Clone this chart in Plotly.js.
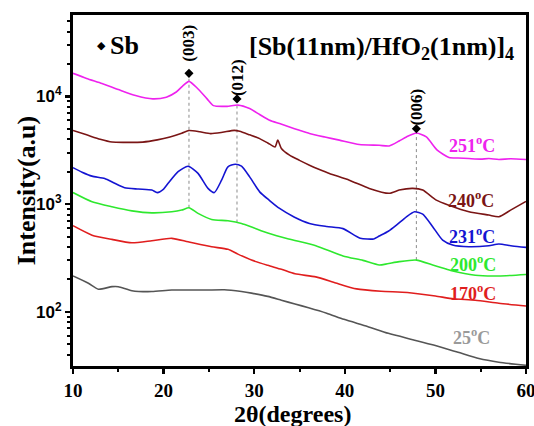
<!DOCTYPE html>
<html>
<head>
<meta charset="utf-8">
<script src="https://cdn.plot.ly/plotly-3.0.1.min.js"></script>
<style>html,body{margin:0;padding:0;background:#fff;}</style>
</head>
<body>
<div id="chart" style="width:534px;height:426px;"></div>
<script>
// ---- data (2θ in degrees, intensity in a.u.) ----
const x251 = [10, 11.5, 13.2, 15, 16.9, 18.8, 20.3, 21.4, 22.1, 22.8, 23.7, 24.8, 25.5, 27.0, 28.2, 29.5, 30.6, 31.7, 32.8, 33.9, 35, 36.1, 37.8, 39.4, 41.6, 43.8, 44.9, 46.0, 46.8, 47.9, 49.0, 50.2, 51.5, 52.5, 53.7, 55, 55.9, 57, 58.3, 60];
const y251 = [16400, 14700, 13200, 11600, 10200, 9500, 9860, 11000, 12500, 13800, 12000, 9500, 8220, 8100, 8320, 7720, 6800, 6010, 5600, 5210, 4850, 4530, 4200, 3930, 3580, 3520, 3470, 3860, 4210, 4580, 4210, 3170, 2710, 2680, 2650, 2620, 2650, 2600, 2640, 2600];

const x240 = [10, 11.5, 13, 14.3, 16, 17.7, 19.3, 20.7, 22.0, 22.8, 24.0, 25.2, 26.5, 27.8, 28.4, 29.5, 30.6, 31.5, 32.3, 32.6, 33.0, 33.9, 35, 36.1, 37.2, 38.3, 40.5, 42.7, 44.9, 46.0, 47.5, 48.6, 50.1, 51.5, 53.7, 55.9, 57.0, 58.3, 60];
const y240 = [4830, 4400, 4000, 3770, 3750, 3770, 3950, 4200, 4550, 4830, 4700, 4520, 4650, 4840, 4750, 4400, 4060, 3700, 3400, 3930, 3290, 2850, 2550, 2300, 2100, 1930, 1670, 1400, 1260, 1350, 1400, 1350, 1090, 977, 849, 791, 763, 879, 1060];

const x231 = [10, 11, 12.1, 13.5, 14.6, 15.7, 17.2, 18.7, 19.3, 20.0, 20.5, 21.6, 22.7, 23.8, 24.9, 25.6, 26.4, 27.1, 27.9, 28.6, 29.5, 30.6, 31.7, 32.8, 34.4, 36.1, 38, 39.8, 41.7, 43.2, 43.8, 44.8, 45.7, 46.8, 47.7, 48.6, 49.7, 50.8, 51.9, 53.7, 55.9, 57.0, 58.5, 60];
const y231 = [2180, 1980, 1820, 1730, 1560, 1420, 1380, 1350, 1280, 1380, 1560, 2000, 2250, 1930, 1400, 1280, 1670, 2220, 2350, 2250, 1790, 1300, 1080, 912, 760, 662, 620, 592, 482, 475, 505, 560, 638, 762, 849, 807, 617, 463, 417, 402, 411, 426, 408, 396];

const x200 = [10, 12.1, 14.3, 16.5, 18.7, 20.9, 22.0, 22.8, 23.8, 25.3, 27.1, 28.6, 30, 31.5, 33.8, 36.8, 39.8, 42, 43.8, 44.7, 46.0, 47.9, 49.7, 50.8, 51.8, 54.4, 57, 60];
const y200 = [1280, 1050, 944, 866, 830, 849, 880, 925, 820, 721, 700, 662, 600, 540, 475, 411, 330, 300, 272, 279, 292, 302, 272, 255, 240, 218, 215, 222];

const x170 = [10, 12.1, 14.3, 16.5, 18.7, 20.9, 22.7, 25.3, 27.1, 28.2, 29.7, 31.5, 33.0, 34.5, 36.8, 39, 41.3, 44, 46.9, 50, 52, 54.4, 57, 60];
const y170 = [630, 515, 470, 437, 457, 481, 447, 402, 380, 343, 302, 270, 248, 225, 211, 185, 163, 155, 151, 140, 132, 128, 120, 113];

const x25 = [10, 11.7, 12.8, 14.3, 15.0, 16.5, 18.7, 20.9, 24.6, 26.7, 28.6, 29.7, 31.5, 33.0, 34.5, 36.0, 38, 39.9, 42.5, 44.8, 47.5, 49.8, 52.5, 54.8, 57, 60];
const y25 = [215, 184, 162, 171, 171, 157, 154, 159, 159, 160, 154, 149, 139, 128, 118, 109, 97, 85, 73, 63, 55, 49, 42, 36.8, 34, 31.8];

const seriesNames = ['251', '240', '231', '200', '170', '25'];
const peakPos = [22.8, 28.1, 47.9];
const peakLabels = ['(003)', '(012)', '(006)'];
const peakMarkerY = [16400, 9500, 5010];
const yTickVals = [100, 1000, 10000];
const yTickText = ['10<sup>2</sup>', '10<sup>3</sup>', '10<sup>4</sup>'];
const xTickVals = [10, 20, 30, 40, 50, 60];

// ---- styles / placement ----
const colors = ['#ee22ee', '#7a1515', '#1414d2', '#2ee82e', '#e01e1e', '#555555'];
const labelColors = ['#ee22ee', '#7a1515', '#1414d2', '#2ee82e', '#e01e1e', '#9a9a9a'];
const labelPos = [[54.0, 3.557], [53.9, 3.046], [54.0, 2.712], [54.1, 2.45], [54.2, 2.18], [54.0, 1.774]];
const peakLabelLogY = [4.50, 4.18, 3.90];

const xs = [x251, x240, x231, x200, x170, x25];
const ys = [y251, y240, y231, y200, y170, y25];

function interp(xa, ya, x) {
  for (let i = 0; i < xa.length - 1; i++) {
    if (x >= xa[i] && x <= xa[i + 1]) {
      const t = (x - xa[i]) / (xa[i + 1] - xa[i]);
      return Math.pow(10, Math.log10(ya[i]) * (1 - t) + Math.log10(ya[i + 1]) * t);
    }
  }
  return ya[ya.length - 1];
}

const traces = [];
// dashed guide lines from peak marker down to the 200°C curve
peakPos.forEach((p, i) => {
  traces.push({
    x: [p, p], y: [interp(x200, y200, p), peakMarkerY[i]],
    mode: 'lines', line: {color: '#8a8a8a', width: 1, dash: 'dot'},
    hoverinfo: 'skip', showlegend: false
  });
});
xs.forEach((xa, i) => {
  traces.push({
    x: xa, y: ys[i], mode: 'lines', name: seriesNames[i],
    line: {color: colors[i], width: 1.6, shape: 'spline', smoothing: 0.6}, showlegend: false
  });
});
traces.push({
  x: peakPos, y: peakMarkerY, mode: 'markers',
  marker: {symbol: 'diamond', size: 7, color: 'black'}, showlegend: false
});

const serif = 'Liberation Serif, Times New Roman, serif';
const annotations = [];
seriesNames.forEach((n, i) => {
  annotations.push({
    x: labelPos[i][0], y: labelPos[i][1], xref: 'x', yref: 'y',
    text: n + '<sup>o</sup>C', showarrow: false, xanchor: 'center', yanchor: 'middle',
    font: {family: serif, size: 18, weight: 'bold', color: labelColors[i]}
  });
});
peakLabels.forEach((t, i) => {
  annotations.push({
    x: peakPos[i], y: peakLabelLogY[i], xref: 'x', yref: 'y',
    text: t, textangle: -90, showarrow: false, xanchor: 'center', yanchor: 'middle',
    font: {family: serif, size: 17, weight: 'bold', color: 'black'}
  });
});
annotations.push({
  x: 0.0635, y: 0.912, xref: 'paper', yref: 'paper', text: '◆', showarrow: false,
  xanchor: 'center', yanchor: 'middle', font: {family: 'DejaVu Sans', size: 11, color: 'black'}
});
annotations.push({
  x: 0.078, y: 0.912, xref: 'paper', yref: 'paper', text: 'Sb', showarrow: false,
  xanchor: 'left', yanchor: 'middle', font: {family: serif, size: 26, weight: 'bold', color: 'black'}
});
annotations.push({
  x: 0.680, y: 0.905, xref: 'paper', yref: 'paper',
  text: '[Sb(11nm)/HfO<sub>2</sub>(1nm)]<sub>4</sub>', showarrow: false,
  xanchor: 'center', yanchor: 'middle', font: {family: serif, size: 26, weight: 'bold', color: 'black'}
});
annotations.push({
  x: -0.102, y: 0.5, xref: 'paper', yref: 'paper', text: 'Intensity(a.u)', textangle: -90,
  showarrow: false, xanchor: 'center', yanchor: 'middle',
  font: {family: serif, size: 26, weight: 'bold', color: 'black'}
});
annotations.push({
  x: 0.484, y: -0.138, xref: 'paper', yref: 'paper', text: '2θ(degrees)',
  showarrow: false, xanchor: 'center', yanchor: 'middle',
  font: {family: serif, size: 24, weight: 'bold', color: 'black'}
});

// minor log ticks
const minorVals = [];
for (let d = 1; d <= 4; d++) {
  for (let k = 2; k <= 9; k++) minorVals.push(k * Math.pow(10, d));
}

const layout = {
  width: 534, height: 426,
  margin: {l: 73, r: 8, t: 15, b: 60},
  paper_bgcolor: 'white', plot_bgcolor: 'white',
  showlegend: false,
  xaxis: {
    range: [10, 60], tickvals: xTickVals, ticks: 'outside', ticklen: 5, tickwidth: 2.5, tickcolor: 'black',
    linewidth: 3, linecolor: 'black', mirror: true, showgrid: false, zeroline: false,
    ticklabeloverflow: 'allow',
    tickfont: {family: serif, size: 19, weight: 'bold', color: 'black'},
    minor: {tickvals: [15, 25, 35, 45, 55], ticks: 'outside', ticklen: 3, tickwidth: 2, tickcolor: 'black'}
  },
  yaxis: {
    type: 'log', range: [1.496, 4.757], tickvals: yTickVals, ticktext: yTickText,
    ticks: 'outside', ticklen: 5, tickwidth: 2.5, tickcolor: 'black',
    linewidth: 3, linecolor: 'black', mirror: true, showgrid: false, zeroline: false,
    tickfont: {family: 'Liberation Sans, Arial, sans-serif', size: 17, weight: 'bold', color: 'black'},
    minor: {tickvals: minorVals, ticks: 'outside', ticklen: 3, tickwidth: 2, tickcolor: 'black'}
  },
  annotations: annotations
};

Plotly.newPlot('chart', traces, layout, {displayModeBar: false, staticPlot: true});
</script>
</body>
</html>
